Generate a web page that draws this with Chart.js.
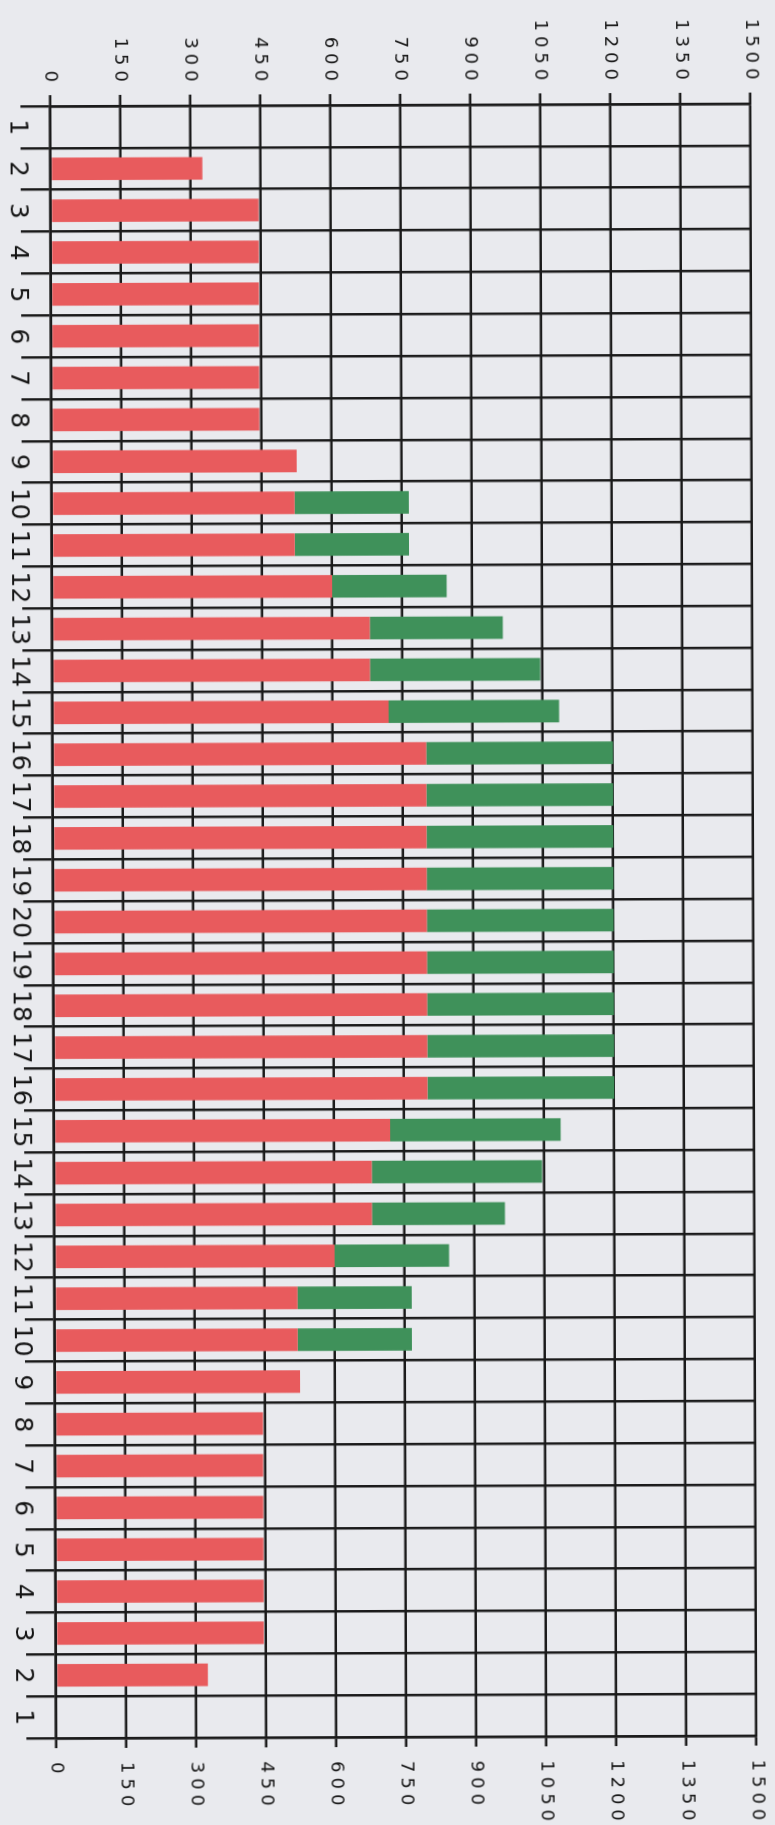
<!DOCTYPE html>
<html>
<head>
<meta charset="utf-8">
<script src="https://cdn.jsdelivr.net/npm/chart.js@4/dist/chart.umd.min.js"></script>
<style>
  html, body { margin: 0; padding: 0; overflow: hidden; background: #e9eaee; width: 775px; height: 1825px; }
  #wrap {
    position: absolute; left: 0; top: 0; width: 1825px; height: 775px;
    transform-origin: 0 0;
    transform: translate(775px, -2.5px) rotate(89.79deg);
  }
</style>
</head>
<body>
<div id="wrap"><canvas id="chart" width="1825" height="775"></canvas></div>
<script>
// categories: 1..20 then back down to 1
const categories = ['1','2','3','4','5','6','7','8','9','10','11','12','13','14','15','16','17','18','19','20',
  '19','18','17','16','15','14','13','12','11','10','9','8','7','6','5','4','3','2','1'];

// red part of each bar
const redValues = [0, 325, 445, 445, 445, 445, 445, 445, 525, 520, 520, 600, 680, 680, 720, 800, 800, 800, 800, 800,
  800, 800, 800, 800, 720, 680, 680, 600, 520, 520, 525, 445, 445, 445, 445, 445, 445, 325, 0];

// green part stacked on top of the red
const greenValues = [0, 0, 0, 0, 0, 0, 0, 0, 0, 245, 245, 245, 285, 365, 365, 400, 400, 400, 400, 400,
  400, 400, 400, 400, 365, 365, 285, 245, 245, 245, 0, 0, 0, 0, 0, 0, 0, 0, 0];

const valueTicks = [0, 150, 300, 450, 600, 750, 900, 1050, 1200, 1350, 1500];

const lineColor = '#1a1a1a';
const textColor = '#151515';

const ctx = document.getElementById('chart');

const chart = new Chart(ctx, {
  type: 'bar',
  data: {
    labels: categories,
    datasets: [
      { data: redValues, backgroundColor: '#e85b5d', barPercentage: 0.54, categoryPercentage: 1 },
      { data: greenValues, backgroundColor: '#3f915a', barPercentage: 0.54, categoryPercentage: 1 }
    ]
  },
  options: {
    responsive: false,
    devicePixelRatio: 1,
    animation: false,
    layout: { padding: { top: 23, left: 0, right: 0, bottom: 0 } },
    plugins: { legend: { display: false }, tooltip: { enabled: false } },
    scales: {
      x: {
        stacked: true,
        position: 'bottom',
        grid: { offset: true, color: lineColor, lineWidth: 2.5, tickLength: 30 },
        border: { color: lineColor, width: 2.5 },
        ticks: {
          autoSkip: false, maxRotation: 0, minRotation: 0,
          padding: -12, color: textColor,
          font: { family: 'DejaVu Sans', size: 25 }
        },
        afterFit: s => { s.height = 50; }
      },
      y: {
        stacked: true,
        position: 'left',
        min: 0, max: 1500,
        afterBuildTicks: s => { s.ticks = valueTicks.map(v => ({ value: v })); },
        grid: { color: lineColor, lineWidth: 2.5, tickLength: 11 },
        border: { color: lineColor, width: 2.5 },
        ticks: { padding: 8, color: textColor, font: { family: 'DejaVu Sans', size: 18 }, callback: v => String(v) },
        afterFit: s => { s.width = 106; }
      },
      y2: {
        position: 'right',
        min: 0, max: 1500,
        afterBuildTicks: s => { s.ticks = valueTicks.map(v => ({ value: v })); },
        grid: { display: true, drawOnChartArea: false, color: lineColor, lineWidth: 2.5, tickLength: 10 },
        border: { color: lineColor, width: 2.5 },
        ticks: { padding: 14, color: textColor, font: { family: 'DejaVu Sans', size: 18 }, callback: v => String(v) },
        afterFit: s => { s.width = 87; }
      }
    }
  }
});

// value labels in the scan are drawn wide, so space the digits out
['y', 'y2'].forEach(id => {
  const s = chart.scales[id];
  const orig = s.drawLabels;
  s.drawLabels = function(area) {
    const c = this.ctx;
    c.save();
    c.letterSpacing = '5px';
    orig.call(this, area);
    c.restore();
  };
});
chart.draw();
</script>
</body>
</html>
